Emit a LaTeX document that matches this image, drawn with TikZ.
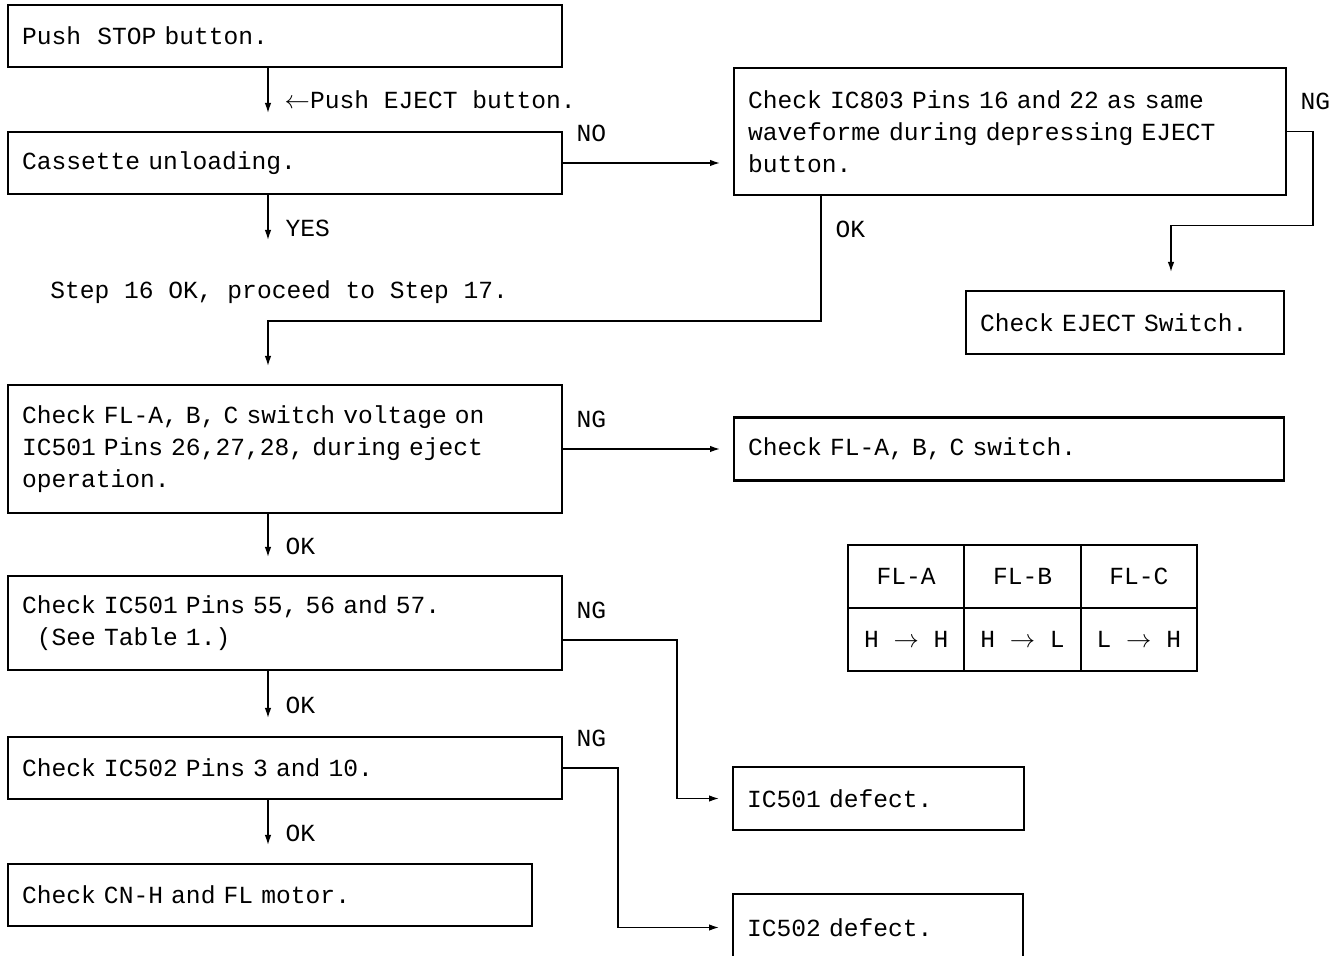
\documentclass[tikz,border=0pt]{standalone}
\usepackage{fontspec}
\setmainfont{Liberation Mono}[WordSpace={1,0,0},PunctuationSpace=WordSpace]
\usepackage{tikz}
\usetikzlibrary{positioning,arrows.meta,calc}
\tikzset{
  box/.style={draw,line width=1.2pt,align=left,inner xsep=2.8mm,inner ysep=0pt,outer sep=0pt,anchor=north west},
  wide/.style={box,text width=105.2mm},
  cell/.style={draw,line width=1pt,minimum width=23.27mm,minimum height=12.6mm,inner sep=0pt,outer sep=0pt,anchor=north west},
  lbl/.style={inner sep=0pt},
  tag/.style={lbl,above right=4.2mm and 2.8mm},
  arr/.style={-{Latex[length=2mm,width=1.3mm]},line width=0.8pt},
  down/.style={arr,shorten >=3.8mm},
  side/.style={arr,shorten >=2.8mm},
}

\begin{document}
\frenchspacing
\begin{tikzpicture}[font=\fontsize{14}{18.2}\selectfont]
\useasboundingbox (0,0) rectangle (268.6mm,-191.2mm);

\node[wide,minimum height=12.4mm] (stop) at (1.6mm,-1mm) {Push\ \ STOP button.};
\node[wide,minimum height=12.4mm,below=13mm of stop.south west,anchor=north west] (unload) {Cassette unloading.};
\coordinate (yesend) at ($([xshift=52mm]unload.south west)+(0,-9.2mm)$);
\node[lbl,anchor=west] (step) at (10mm,-58.4mm) {Step 16 OK, proceed to Step 17.};
\node[wide,minimum height=25.6mm,below=38.2mm of unload.south west,anchor=north west] (flchk) {Check FL-A, B, C switch voltage on\\IC501 Pins 26,27,28, during eject\\operation.};
\node[wide,minimum height=18.8mm,below=12.6mm of flchk.south west,anchor=north west] (pins) {Check IC501 Pins 55, 56 and 57.\\\hspace*{0.6em}(See Table 1.)};
\node[wide,minimum height=12.4mm,below=13.4mm of pins.south west,anchor=north west] (ic502) {Check IC502 Pins 3 and 10.};
\node[box,text width=99.2mm,minimum height=12.4mm,below=13mm of ic502.south west,anchor=north west] (cnh) {Check CN-H and FL motor.};

\node[box,text width=104.8mm,minimum height=25.4mm] (ic803) at (146.8mm,-13.6mm) {Check IC803 Pins 16 and 22 as same\\waveforme during depressing EJECT\\button.};
\node[box,text width=58mm,minimum height=12.6mm] (ejsw) at (193.2mm,-58.2mm) {Check EJECT Switch.};
\node[box,text width=104.4mm,minimum height=12.6mm,right=34.4mm of flchk] (flsw) {Check FL-A, B, C switch.};
\node[box,text width=52.6mm,minimum height=12.6mm] (d501) at (146.6mm,-153.4mm) {IC501 defect.};
\node[box,text width=52.4mm,minimum height=13.4mm] (d502) at (146.6mm,-178.8mm) {IC502 defect.};

\coordinate (tbl) at (169.6mm,-109mm);
\foreach \c/\a/\b [count=\i from 0] in {A/H/H,B/H/L,C/L/H}{
  \node[cell] (top\c) at ($(tbl)+(\i*23.27mm,0)$) {FL-\c};
  \node[cell,below=0pt of top\c] (bot\c) {\a\ $\rightarrow$\ \b};
}

\draw[down] ([xshift=52mm]stop.south west) -- node[lbl,pos=.5,right=3.2mm] {$\leftarrow$Push EJECT button.} ([xshift=52mm]unload.north west);
\draw[side] (unload.east) node[tag] {NO} -- (unload.east -| ic803.west);
\draw[arr] ([xshift=52mm]unload.south west) -- node[lbl,pos=.74,right=3.4mm] {YES} (yesend);
\draw[down] ([xshift=17.4mm]ic803.south west) -- node[lbl,pos=.27,right=2.8mm] {OK} ++(0,-25.2mm) -| ([xshift=52mm]flchk.north west);
\draw[down] (ic803.east) node[tag] {NG} -- ++(5.4mm,0) -- ++(0,-18.8mm) -| ([xshift=9.2mm]ejsw.north);
\draw[side] (flchk.east) node[tag] {NG} -- (flsw.west);
\draw[down] ([xshift=52mm]flchk.south west) -- node[lbl,pos=.53,right=3.4mm] {OK} ([xshift=52mm]pins.north west);
\draw[side] ([yshift=-3.4mm]pins.east) node[tag] {NG} -- ++(23mm,0) |- (d501.west);
\draw[down] ([xshift=52mm]pins.south west) -- node[lbl,pos=.53,right=3.4mm] {OK} ([xshift=52mm]ic502.north west);
\draw[side] (ic502.east) node[tag] {NG} -- ++(11.2mm,0) |- (d502.west);
\draw[down] ([xshift=52mm]ic502.south west) -- node[lbl,pos=.53,right=3.4mm] {OK} ([xshift=52mm]cnh.north west);
\end{tikzpicture}
\end{document}
